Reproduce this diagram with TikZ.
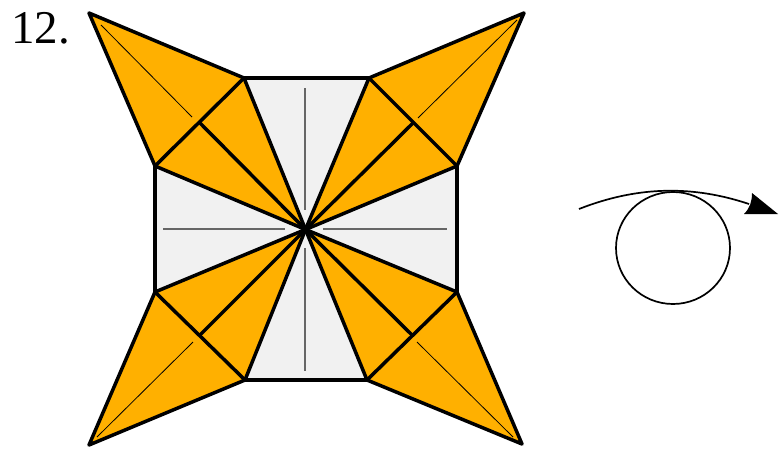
\documentclass[tikz,border=0pt]{standalone}
\usepackage{fontspec}
\setmainfont{Liberation Serif}
\definecolor{flaporange}{HTML}{FFB000}
\definecolor{papergray}{HTML}{F1F1F1}
\tikzset{
  edge/.style={line width=3.5pt, line join=round, line cap=round},
  flap/.style={edge, fill=flaporange},
  crease/.style={line width=0.8pt, black},
  foldmark/.style={line width=1.2pt, black!60},
}
\begin{document}
\begin{tikzpicture}[x=1pt, y=-1pt]
  \useasboundingbox (0, 0) rectangle (783, 455);

  % -- Step number --
  \node[font=\fontsize{47}{47}\selectfont, anchor=base west, inner sep=0pt] (stepnum) at (11, 43) {12.};

  \coordinate (c) at (305.5, 229.5);

  % -- Square --
  \draw[edge, fill=papergray] (155, 78) rectangle (457, 380);

  % -- Fold marks on the square --
  \draw[foldmark] (305, 88) -- (305, 210);
  \draw[foldmark] (305, 248) -- (305, 371);
  \draw[foldmark] (163, 229) -- (285, 229);
  \draw[foldmark] (323, 229) -- (447, 229);

  % -- Top left flap --
  \draw[flap] (c) -- (244, 78) -- (89, 13) -- (155, 166) -- cycle;
  \draw[edge] (244, 78) -- (155, 166);
  \draw[edge] (c) -- (200, 123);
  \draw[crease] (101, 25) -- (192, 117);

  % -- Top right flap --
  \draw[flap] (c) -- (369, 78) -- (524, 13) -- (457, 166) -- cycle;
  \draw[edge] (369, 78) -- (457, 166);
  \draw[edge] (c) -- (413, 123);
  \draw[crease] (517, 20) -- (418, 118);

  % -- Bottom left flap --
  \draw[flap] (c) -- (155, 292) -- (89, 445) -- (245, 380) -- cycle;
  \draw[edge] (155, 292) -- (245, 380);
  \draw[edge] (c) -- (200, 335);
  \draw[crease] (97, 437) -- (193, 342);

  % -- Bottom right flap --
  \draw[flap] (c) -- (457, 292) -- (522, 444) -- (367, 380) -- cycle;
  \draw[edge] (457, 292) -- (367, 380);
  \draw[edge] (c) -- (412, 335);
  \draw[crease] (417, 342) -- (513, 437);

  % -- Turn over symbol --
  \draw[line width=1.7pt] (673, 248) ellipse (57 and 56);
  \draw[line width=1.7pt] (579, 209) .. controls (640, 185) and (695, 186) .. (749, 204);
  \fill (752, 193) -- (778, 214) -- (744, 214) .. controls (750, 208) and (752, 201) .. cycle;

\end{tikzpicture}
\end{document}
